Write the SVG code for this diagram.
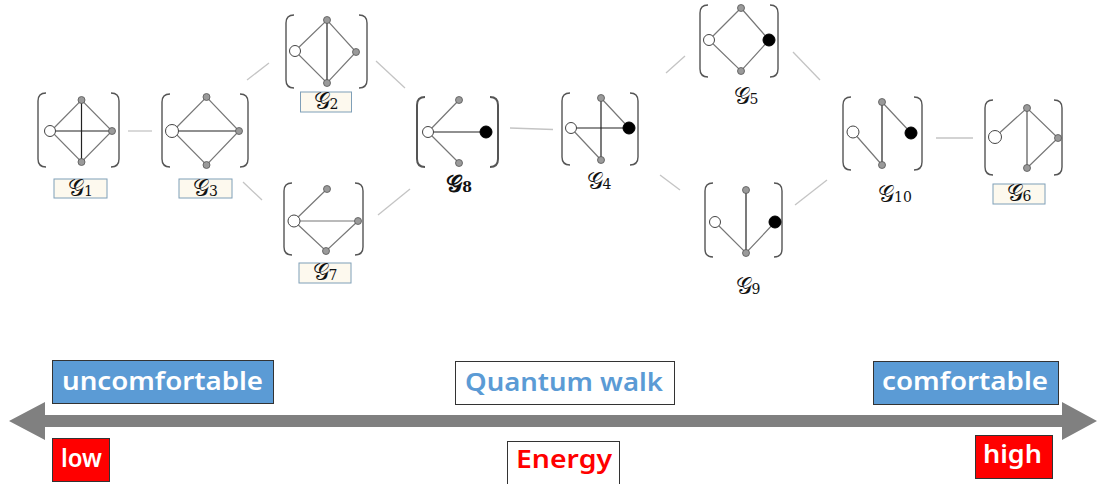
<svg xmlns="http://www.w3.org/2000/svg" width="1099" height="484" viewBox="0 0 1099 484">
<style>
.br{fill:none;stroke:#555;stroke-width:1.4}
.e{stroke:#777;stroke-width:1.2;fill:none}
.d{stroke:#222;stroke-width:1.2;fill:none}
.n{fill:#9a9a9a;stroke:#555;stroke-width:0.8}
.w{fill:#fff;stroke:#444;stroke-width:1}
.b{fill:#000;stroke:#000;stroke-width:1}
.c{stroke:#c4c4c4;stroke-width:1.3;fill:none}
.lb{fill:#fdf9ee;stroke:#7f9fb8;stroke-width:1}
.g{font-family:"DejaVu Serif","DejaVu Sans",serif;font-size:23px;fill:#111;text-anchor:middle}
.s{font-size:14px}
.bx{stroke:#333;stroke-width:1}
.t{font-family:"Noto Sans","Liberation Sans",sans-serif;font-size:26px;font-weight:600}
</style>
<g id="connectors">
<line class="c" x1="128" y1="131" x2="152" y2="131"/>
<line class="c" x1="247" y1="80" x2="269" y2="63"/>
<line class="c" x1="243" y1="182" x2="262" y2="200"/>
<line class="c" x1="376" y1="61" x2="405" y2="88"/>
<line class="c" x1="378" y1="215" x2="410" y2="189"/>
<line class="c" x1="510" y1="128" x2="553" y2="129.5"/>
<line class="c" x1="666" y1="73" x2="685" y2="56"/>
<line class="c" x1="660" y1="175" x2="680" y2="190"/>
<line class="c" x1="793" y1="52" x2="820" y2="80"/>
<line class="c" x1="795" y1="205" x2="827" y2="180"/>
<line class="c" x1="936" y1="138" x2="973" y2="138"/>
</g>
<g id="G1">
<path class="br" d="M46,93 Q38,93 38,101 L38,159 Q38,167 46,167"/>
<path class="br" d="M111,93 Q119,93 119,101 L119,159 Q119,167 111,167"/>
<path class="e" d="M51,131 L81.5,100 L112,131 L81.5,162 Z"/>
<line class="d" x1="51" y1="131" x2="112" y2="131"/>
<line class="d" x1="81.5" y1="100" x2="81.5" y2="162"/>
<circle class="n" cx="81.5" cy="100" r="3.5"/>
<circle class="n" cx="112" cy="131" r="3.5"/>
<circle class="n" cx="81.5" cy="162" r="3.5"/>
<circle class="w" cx="50" cy="131" r="5.5"/>
<rect class="lb" x="54" y="179" width="53" height="19"/>
<text class="g" x="80.5" y="196">𝒢<tspan class="s">1</tspan></text>
</g>
<g id="G3">
<path class="br" d="M170,94 Q162,94 162,102 L162,159 Q162,167 170,167"/>
<path class="br" d="M240,94 Q248,94 248,102 L248,159 Q248,167 240,167"/>
<path class="e" d="M173,131 L206.5,97 L239,131 L206.5,165 Z"/>
<line class="d" x1="173" y1="131" x2="239" y2="131"/>
<circle class="n" cx="206.5" cy="97" r="3.5"/>
<circle class="n" cx="239" cy="131" r="3.5"/>
<circle class="n" cx="206.5" cy="165" r="3.5"/>
<circle class="w" cx="172" cy="131" r="6.5"/>
<rect class="lb" x="179" y="179" width="53" height="19"/>
<text class="g" x="205.5" y="196">𝒢<tspan class="s">3</tspan></text>
</g>
<g id="G2">
<path class="br" d="M294,15 Q286,15 286,23 L286,80 Q286,88 294,88"/>
<path class="br" d="M359,15 Q367,15 367,23 L367,80 Q367,88 359,88"/>
<path class="e" d="M295,51 L327,20 L356,52 L327,83 Z"/>
<line class="d" x1="327" y1="20" x2="327" y2="83"/>
<circle class="n" cx="327" cy="20" r="3.5"/>
<circle class="n" cx="356" cy="52" r="3.5"/>
<circle class="n" cx="327" cy="83" r="3.5"/>
<circle class="w" cx="295" cy="51" r="5.5"/>
<rect class="lb" x="300.5" y="92" width="51" height="20"/>
<text class="g" x="326" y="109">𝒢<tspan class="s">2</tspan></text>
</g>
<g id="G7">
<path class="br" d="M292,183 Q284,183 284,191 L284,247 Q284,255 292,255"/>
<path class="br" d="M355,183 Q363,183 363,191 L363,247 Q363,255 355,255"/>
<path class="e" d="M294,221 L327,189 M294,221 L358,221 M294,221 L326,251 L358,221"/>
<circle class="n" cx="327" cy="189" r="3.5"/>
<circle class="n" cx="358" cy="221" r="3.5"/>
<circle class="n" cx="326" cy="251" r="3.5"/>
<circle class="w" cx="294" cy="221" r="6"/>
<rect class="lb" x="299" y="263" width="52" height="20"/>
<text class="g" x="325" y="280">𝒢<tspan class="s">7</tspan></text>
</g>
<g id="G8">
<path class="br" d="M425,97 Q417,97 417,105 L417,159 Q417,167 425,167" style="stroke-width:2"/>
<path class="br" d="M490,97 Q498,97 498,105 L498,159 Q498,167 490,167" style="stroke-width:2"/>
<path class="e" d="M428,132 L459,100 M428,132 L459,163"/>
<line class="d" x1="428" y1="132" x2="486" y2="132"/>
<circle class="n" cx="459" cy="100" r="3.5"/>
<circle class="n" cx="459" cy="163" r="3.5"/>
<circle class="w" cx="428" cy="132" r="5.5"/>
<circle class="b" cx="486" cy="132" r="6"/>
<text class="g" x="459" y="192" style="font-weight:bold">𝒢<tspan class="s">8</tspan></text>
</g>
<g id="G4">
<path class="br" d="M570,93 Q562,93 562,101 L562,157 Q562,165 570,165"/>
<path class="br" d="M630,93 Q638,93 638,101 L638,157 Q638,165 630,165"/>
<path class="e" d="M601,98 L629,128 M571,128 L601,160"/>
<line class="d" x1="601" y1="98" x2="601" y2="160"/>
<line class="d" x1="571" y1="128" x2="629" y2="128"/>
<circle class="n" cx="601" cy="98" r="3.5"/>
<circle class="n" cx="601" cy="160" r="3.5"/>
<circle class="w" cx="571" cy="128" r="5.5"/>
<circle class="b" cx="629" cy="128" r="6"/>
<text class="g" x="599" y="189">𝒢<tspan class="s">4</tspan></text>
</g>
<g id="G5">
<path class="br" d="M708,5 Q700,5 700,13 L700,69 Q700,77 708,77"/>
<path class="br" d="M770,5 Q778,5 778,13 L778,69 Q778,77 770,77"/>
<path class="e" d="M709,40 L741,8 L769,40 L741,71 Z"/>
<circle class="n" cx="741" cy="8" r="3.5"/>
<circle class="n" cx="741" cy="71" r="3.5"/>
<circle class="w" cx="709" cy="40" r="5.5"/>
<circle class="b" cx="769" cy="40" r="6"/>
<text class="g" x="746" y="104">𝒢<tspan class="s">5</tspan></text>
</g>
<g id="G9">
<path class="br" d="M713,183 Q705,183 705,191 L705,249 Q705,257 713,257"/>
<path class="br" d="M774,183 Q782,183 782,191 L782,249 Q782,257 774,257"/>
<path class="e" d="M715,222 L746,253 L775,222"/>
<line class="d" x1="746" y1="190" x2="746" y2="253"/>
<circle class="n" cx="746" cy="190" r="3.5"/>
<circle class="n" cx="746" cy="253" r="3.5"/>
<circle class="w" cx="715" cy="222" r="5.5"/>
<circle class="b" cx="775" cy="222" r="6"/>
<text class="g" x="748" y="294">𝒢<tspan class="s">9</tspan></text>
</g>
<g id="G10">
<path class="br" d="M851,97 Q843,97 843,105 L843,162 Q843,170 851,170"/>
<path class="br" d="M914,97 Q922,97 922,105 L922,162 Q922,170 914,170"/>
<path class="e" d="M853,132 L882,165 M882,102 L911,133"/>
<line class="d" x1="882" y1="102" x2="882" y2="165"/>
<circle class="n" cx="882" cy="102" r="3.5"/>
<circle class="n" cx="882" cy="165" r="3.5"/>
<circle class="w" cx="853" cy="132" r="6"/>
<circle class="b" cx="911" cy="133" r="6"/>
<text class="g" x="895" y="202">𝒢<tspan class="s">10</tspan></text>
</g>
<g id="G6">
<path class="br" d="M993,100 Q985,100 985,108 L985,167 Q985,175 993,175"/>
<path class="br" d="M1054,100 Q1062,100 1062,108 L1062,167 Q1062,175 1054,175"/>
<path class="e" d="M995,137 L1027,108 L1058,138 L1027,168"/>
<line class="d" x1="1027" y1="108" x2="1027" y2="168" style="stroke:#555"/>
<circle class="n" cx="1027" cy="108" r="3.5"/>
<circle class="n" cx="1058" cy="138" r="3.5"/>
<circle class="n" cx="1027" cy="168" r="3.5"/>
<circle class="w" cx="995" cy="137" r="6.5"/>
<rect class="lb" x="993" y="184" width="52" height="20"/>
<text class="g" x="1019" y="201">𝒢<tspan class="s">6</tspan></text>
</g>
<g id="axis">
<polygon fill="#808080" points="9,421 45,402 45,415 1062,415 1062,402 1097,421 1062,440 1062,427 45,427 45,440"/>
</g>
<g id="uncomfortable">
<rect class="bx" x="52.5" y="360.5" width="221" height="43" fill="#5b9bd5"/>
<text class="t" x="62" y="390" fill="#fff" textLength="201" lengthAdjust="spacingAndGlyphs">uncomfortable</text>
</g>
<g id="quantum">
<rect class="bx" x="455.5" y="361.5" width="219" height="43" fill="#fff"/>
<text class="t" x="465" y="391" fill="#5b9bd5" textLength="198" lengthAdjust="spacingAndGlyphs">Quantum walk</text>
</g>
<g id="comfortable">
<rect class="bx" x="873.5" y="361.5" width="185" height="43" fill="#5b9bd5"/>
<text class="t" x="882" y="390" fill="#fff" textLength="166" lengthAdjust="spacingAndGlyphs">comfortable</text>
</g>
<g id="low">
<rect class="bx" x="52.5" y="438.5" width="57" height="43" fill="#ff0000"/>
<text class="t" x="61" y="467" fill="#fff" textLength="41" lengthAdjust="spacingAndGlyphs">low</text>
</g>
<g id="energy">
<rect class="bx" x="507.5" y="441.5" width="112" height="44" fill="#fff"/>
<text class="t" x="516" y="468" fill="#ff0000" textLength="96" lengthAdjust="spacingAndGlyphs">Energy</text>
</g>
<g id="high">
<rect class="bx" x="975.5" y="435.5" width="77" height="43" fill="#ff0000"/>
<text class="t" x="983" y="463" fill="#fff" textLength="59" lengthAdjust="spacingAndGlyphs">high</text>
</g>
</svg>
